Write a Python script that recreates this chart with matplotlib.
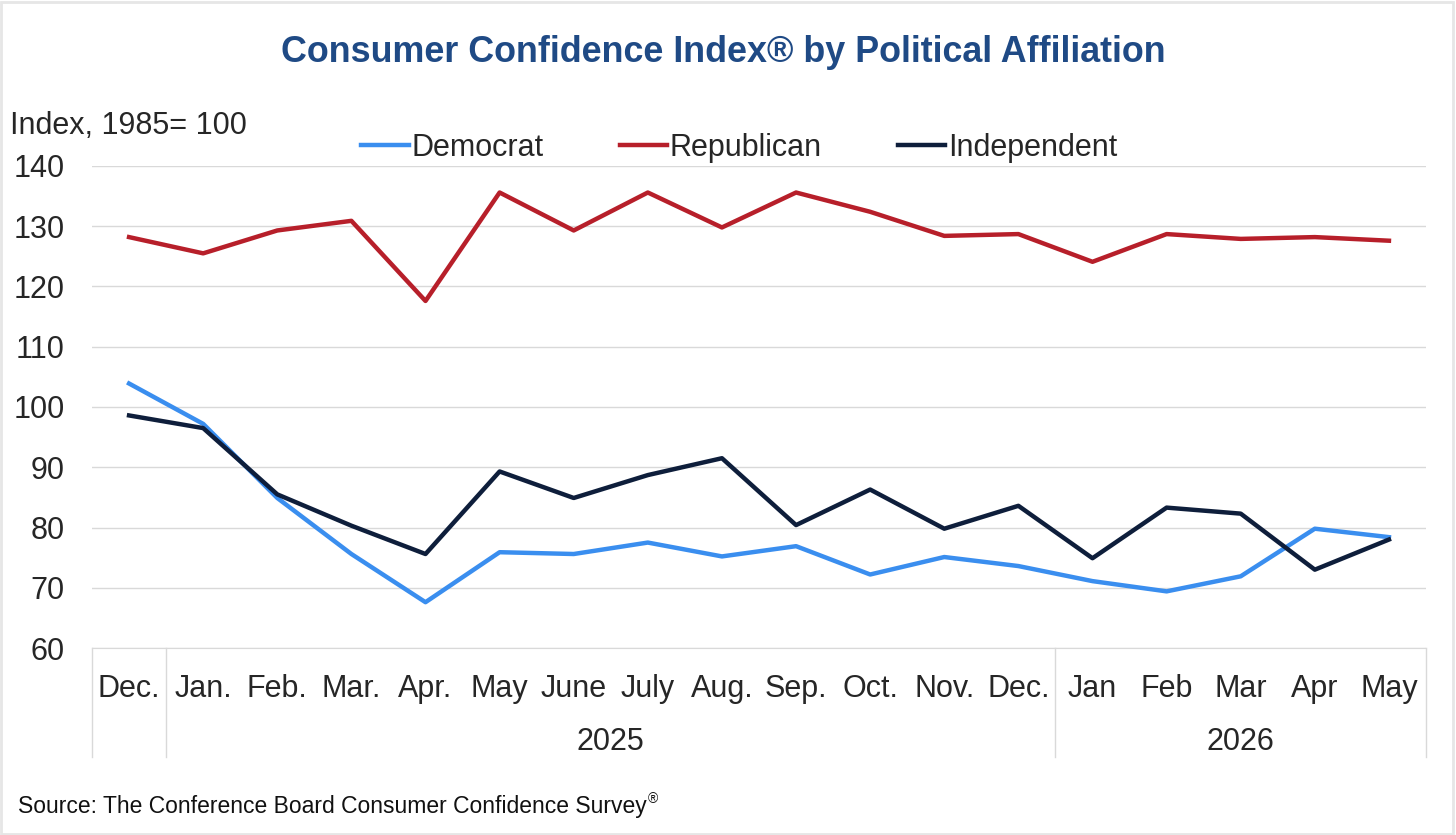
import matplotlib
matplotlib.use("Agg")
import matplotlib.pyplot as plt
import matplotlib.transforms as mtransforms

plt.rcParams['font.family'] = ['Liberation Sans', 'DejaVu Sans']

months = ["Dec.", "Jan.", "Feb.", "Mar.", "Apr.", "May", "June", "July", "Aug.",
          "Sep.", "Oct.", "Nov.", "Dec.", "Jan", "Feb", "Mar", "Apr", "May"]
years = ["2025", "2026"]
democrat = [103.9, 97.2, 84.9, 75.6, 67.6, 75.9, 75.6, 77.5, 75.2, 76.9, 72.2,
            75.1, 73.6, 71.1, 69.4, 71.9, 79.8, 78.4]
republican = [128.2, 125.5, 129.3, 130.9, 117.6, 135.6, 129.3, 135.6, 129.8,
              135.6, 132.4, 128.4, 128.7, 124.1, 128.7, 127.9, 128.2, 127.6]
independent = [98.6, 96.5, 85.5, 80.3, 75.6, 89.3, 84.9, 88.7, 91.5, 80.4, 86.3,
               79.8, 83.6, 74.9, 83.3, 82.3, 73.0, 78.0]

C_DEM = "#3A8EEF"
C_REP = "#B71F2A"
C_IND = "#0E1E3B"
TXT = "#262626"
FS = 22

fig = plt.figure(figsize=(14.56, 8.35), dpi=100)
fig.patch.set_facecolor("white")
ax = fig.add_axes([92/1456, 1-648/835, (1426-92)/1456, (648-166)/835])

x = list(range(len(months)))
ax.plot(x, democrat, color=C_DEM, lw=3.2, label="Democrat")
ax.plot(x, republican, color=C_REP, lw=3.2, label="Republican")
ax.plot(x, independent, color=C_IND, lw=3.2, label="Independent")

ax.set_xlim(-0.5, len(months) - 0.5)
ax.set_ylim(60, 140)
ax.set_yticks(range(60, 141, 10))
ax.grid(axis="y", color="#D9D9D9", lw=1)
ax.set_axisbelow(True)
for s in ["left", "right", "top"]:
    ax.spines[s].set_visible(False)
ax.spines["bottom"].set_color("#D9D9D9")
ax.tick_params(axis="y", length=0, pad=19.5, labelsize=FS, labelcolor=TXT)
ax.set_xticks(x)
ax.set_xticklabels(months)
ax.tick_params(axis="x", length=0, pad=18.5, labelsize=FS, labelcolor=TXT)

# group separators and year labels
trans = mtransforms.blended_transform_factory(ax.transData, ax.transAxes)
for xs in [-0.5, 0.5, 12.5, len(months) - 0.5]:
    ax.plot([xs, xs], [0, -0.226], transform=trans, color="#D9D9D9", lw=1, clip_on=False)
ax.text((1 + 12) / 2, -0.194, years[0], transform=trans, ha="center", va="center",
        fontsize=FS, color=TXT)
ax.text((13 + 17) / 2, -0.194, years[1], transform=trans, ha="center", va="center",
        fontsize=FS, color=TXT)

fig.text(0.4966, 1-52/835, "Consumer Confidence Index® by Political Affiliation",
         ha="center", va="center", fontsize=25.8, fontweight="bold", color="#1F4A85")
fig.text(10/1456, 1-126/835, "Index, 1985= 100", ha="left", va="center",
         fontsize=FS, color=TXT)

leg = fig.legend(loc="center", bbox_to_anchor=(0.5076, 1-148/835), ncol=3,
                 frameon=False, fontsize=FS, handlelength=1.55, handletextpad=0.08,
                 columnspacing=2.5)
for t in leg.get_texts():
    t.set_color(TXT)

src = fig.text(18/1456, 1-806/835, "Source: The Conference Board Consumer Confidence Survey",
               ha="left", va="center", fontsize=16.5, color="#111111")
fig.canvas.draw()
bb = src.get_window_extent()
fig.text(bb.x1 / fig.bbox.width + 0.0005, 1-799/835, "®", ha="left", va="center",
         fontsize=10, color="#111111")

border = plt.Rectangle((0.001, 0.001), 0.997, 0.997, transform=fig.transFigure,
                       fill=False, edgecolor="#E6E6E6", lw=2)
fig.patches.append(border)

fig.savefig("out.png", dpi=100, facecolor="white")
